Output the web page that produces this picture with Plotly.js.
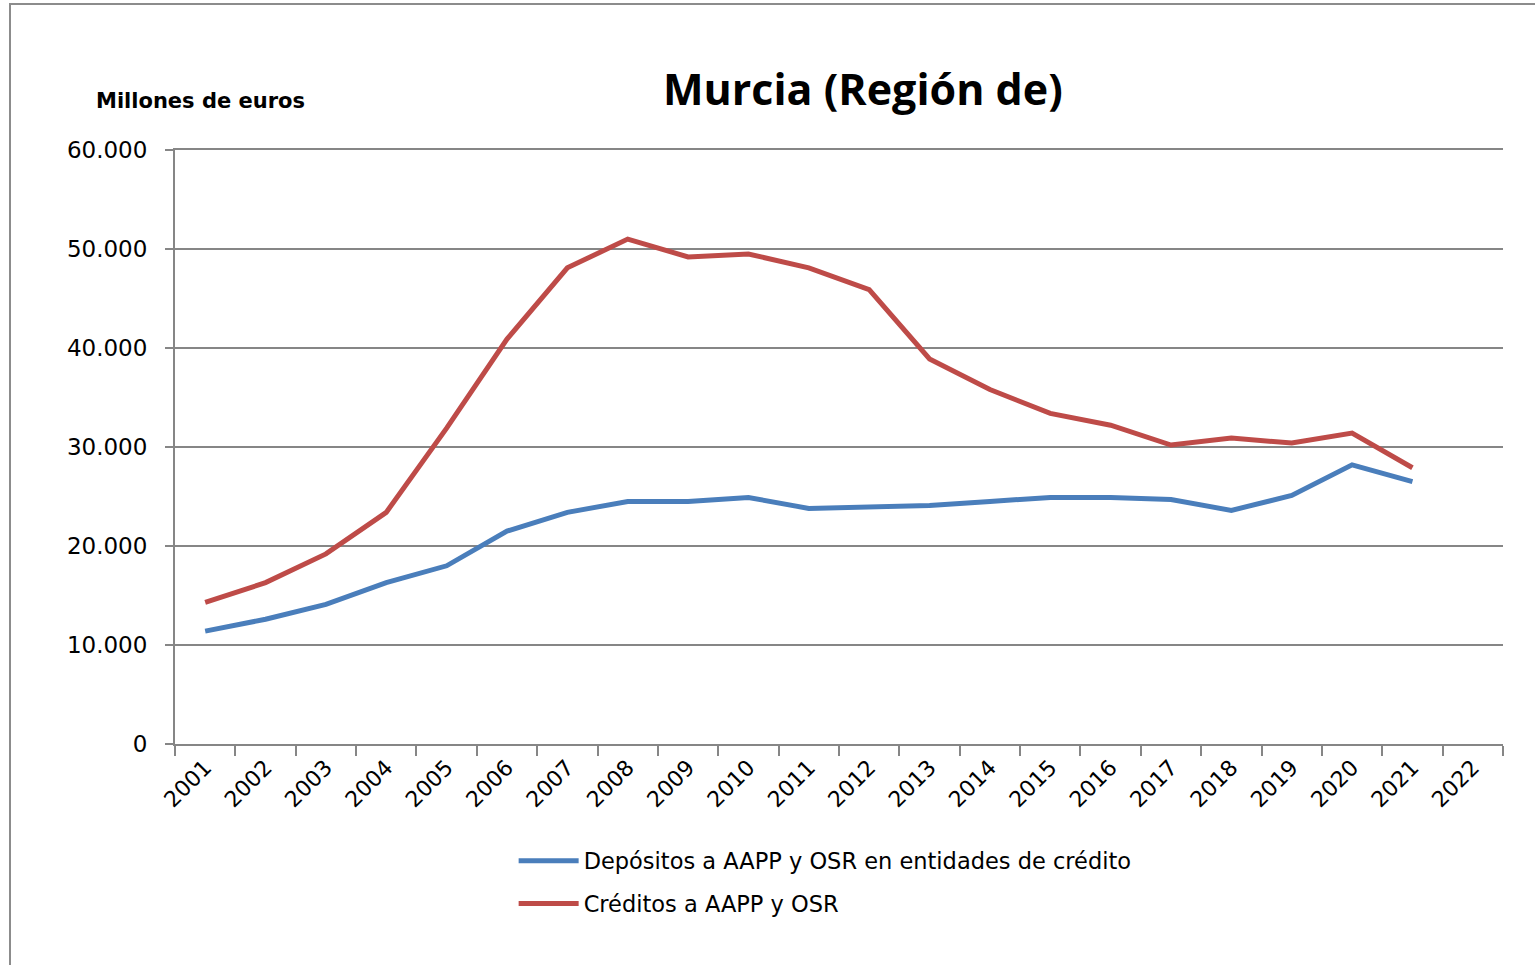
<!DOCTYPE html>
<html>
<head>
<meta charset="utf-8">
<script src="https://cdn.plot.ly/plotly-3.0.1.min.js"></script>
<style>
  html, body { margin: 0; padding: 0; background: #fff; }
  #wrap { position: relative; width: 1535px; height: 965px; overflow: hidden; }
  #chart { position: absolute; left: 0; top: 0; width: 1535px; height: 965px; }
  #frame { position: absolute; left: 9px; top: 3px; width: 1540px; height: 1000px; border: 2px solid #8c8c8c; pointer-events: none; }
</style>
</head>
<body>
<div id="wrap">
  <div id="chart"></div>
  <div id="frame"></div>
</div>
<script>
const years = ["2001","2002","2003","2004","2005","2006","2007","2008","2009","2010","2011",
               "2012","2013","2014","2015","2016","2017","2018","2019","2020","2021","2022"];
const depositos = [11.4, 12.6, 14.1, 16.3, 18.0, 21.5, 23.4, 24.5, 24.5, 24.9, 23.8,
                   23.9, 24.1, 24.5, 24.9, 24.9, 24.7, 23.6, 25.1, 28.2, 26.5, null].map(v => v === null ? null : v * 1000);
const creditos = [14.3, 16.3, 19.2, 23.4, 31.9, 40.9, 48.1, 51.0, 49.2, 49.5, 48.1,
                  45.9, 38.9, 35.8, 33.4, 32.2, 30.2, 30.9, 30.4, 31.4, 27.9, null].map(v => v === null ? null : v * 1000);
const seriesNames = ["Depósitos a AAPP y OSR en entidades de crédito", "Créditos a AAPP y OSR"];
const yTicks = [0, 10000, 20000, 30000, 40000, 50000, 60000];

const font = "DejaVu Sans, Open Sans, sans-serif";

const traces = [
  { x: years, y: depositos, name: seriesNames[0], type: "scatter", mode: "lines", legend: "legend",
    line: { color: "#4A7EBB", width: 5 }, connectgaps: false },
  { x: years, y: creditos, name: seriesNames[1], type: "scatter", mode: "lines", legend: "legend2",
    line: { color: "#BE4B48", width: 5 }, connectgaps: false }
];

const legendBase = {
  xanchor: "left", yanchor: "middle", orientation: "v",
  font: { family: font, size: 22.5, color: "#000" }, bgcolor: "rgba(0,0,0,0)",
  itemwidth: 60
};

const layout = {
  width: 1535, height: 965,
  margin: { l: 175, r: 32, t: 150, b: 221, autoexpand: false },
  paper_bgcolor: "#fff", plot_bgcolor: "#fff",
  separators: ",.",
  font: { family: font, color: "#000", size: 20 },
  title: { text: "<b>Murcia (Región de)</b>", font: { family: "Open Sans, DejaVu Sans, sans-serif", size: 43, color: "#000" },
           x: 0.518, xanchor: "center", y: 0.907, yanchor: "middle", xref: "paper", yref: "container" },
  showlegend: true,
  legend: Object.assign({}, legendBase, { x: 0.255, y: -0.197 }),
  legend2: Object.assign({}, legendBase, { x: 0.255, y: -0.269 }),
  xaxis: {
    type: "category", categoryorder: "array", categoryarray: years,
    range: [-0.5, 21.5], tickson: "boundaries",
    tickangle: -45, tickfont: { family: font, size: 22, color: "#000" },
    showline: true, mirror: true, linecolor: "#868686", linewidth: 2,
    ticks: "outside", ticklen: 10, tickwidth: 2, tickcolor: "#868686",
    showgrid: false, zeroline: false, fixedrange: true, automargin: false
  },
  yaxis: {
    range: [0, 60000], tickvals: yTicks, tickformat: ",d",
    tickfont: { family: font, size: 23, color: "#000" },
    showline: true, linecolor: "#868686", linewidth: 2,
    ticks: "outside", ticklen: 8, tickwidth: 2, tickcolor: "#868686",
    showgrid: true, gridcolor: "#868686", gridwidth: 2,
    zeroline: false, ticklabelstandoff: 13, fixedrange: true, automargin: false
  },
  annotations: [
    { text: "<b>Millones de euros</b>", xref: "paper", yref: "paper", x: -0.061, y: 1.082,
      xanchor: "left", yanchor: "middle", showarrow: false,
      font: { family: font, size: 21, color: "#000" } }
  ]
};

Plotly.newPlot("chart", traces, layout, { displayModeBar: false, staticPlot: true });
</script>
</body>
</html>
